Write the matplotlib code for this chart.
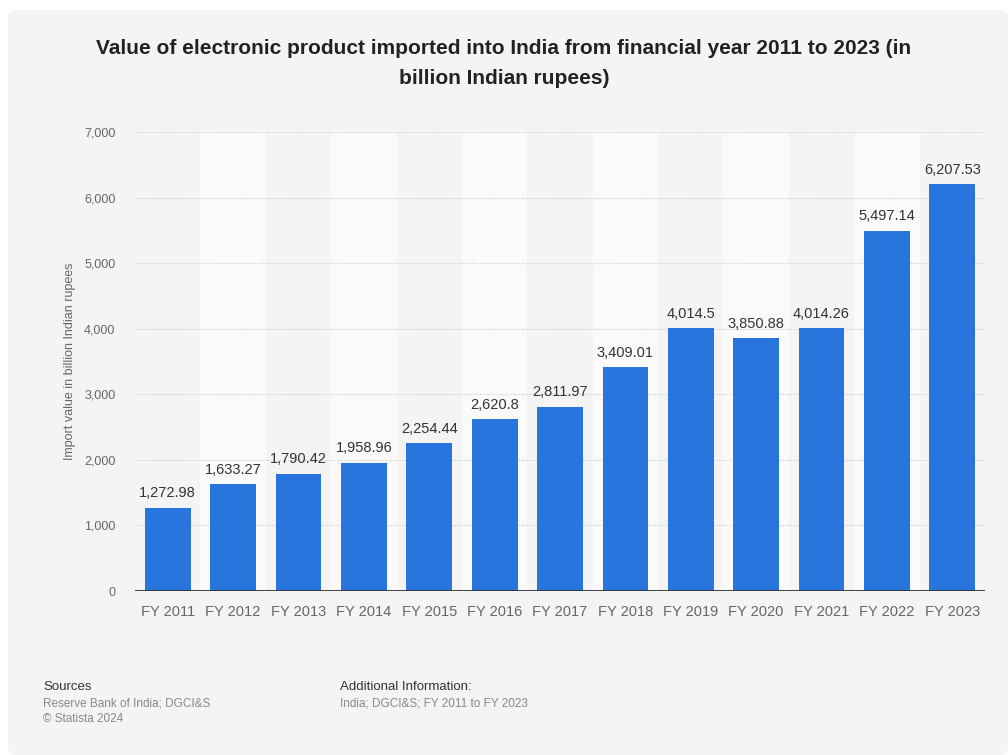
import matplotlib.pyplot as plt
from matplotlib.patches import FancyBboxPatch
from matplotlib.ticker import FuncFormatter

plt.rcParams['font.family'] = ['Liberation Sans', 'DejaVu Sans']

years = ['FY 2011', 'FY 2012', 'FY 2013', 'FY 2014', 'FY 2015', 'FY 2016', 'FY 2017',
         'FY 2018', 'FY 2019', 'FY 2020', 'FY 2021', 'FY 2022', 'FY 2023']
values = [1272.98, 1633.27, 1790.42, 1958.96, 2254.44, 2620.8, 2811.97,
          3409.01, 4014.5, 3850.88, 4014.26, 5497.14, 6207.53]
value_labels = ['1,272.98', '1,633.27', '1,790.42', '1,958.96', '2,254.44', '2,620.8', '2,811.97',
                '3,409.01', '4,014.5', '3,850.88', '4,014.26', '5,497.14', '6,207.53']
yticks = [0, 1000, 2000, 3000, 4000, 5000, 6000, 7000]

W, H = 1008, 755
fig = plt.figure(figsize=(W / 100, H / 100), dpi=100)
fig.patch.set_facecolor('white')

# panel gris claro de fondo
panel = FancyBboxPatch((8 / W, 0), (W - 8) / W, (H - 10) / H,
                       boxstyle='round,pad=0,rounding_size=0.01',
                       transform=fig.transFigure, facecolor='#f4f4f4',
                       edgecolor='none', zorder=-10)
fig.patches.append(panel)

ax = fig.add_axes([135 / W, 1 - 591 / H, 850 / W, (591 - 132) / H])
ax.set_facecolor('none')
ax.set_zorder(2)

x = range(len(years))
# columnas alternas más claras
for i in x:
    if i % 2 == 1:
        ax.axvspan(i - 0.5, i + 0.5, color='#fafafa', zorder=0, lw=0)

for yt in yticks[1:]:
    ax.axhline(yt, color='#c8c8c8', lw=0.8, ls=(0, (1, 1.5)), zorder=1)

bars = ax.bar(x, values, width=0.7, color='#2876dd', zorder=3)
for xi, v, lab in zip(x, values, value_labels):
    ax.text(xi, v + 110, lab, ha='center', va='bottom', fontsize=10.5, color='#333333', zorder=4)

ax.axhline(0, color='#333333', lw=1.3, zorder=5)

ax.set_xlim(-0.5, len(years) - 0.5)
ax.set_ylim(0, 7000)
ax.set_yticks(yticks)
ax.yaxis.set_major_formatter(FuncFormatter(lambda v, p: f'{int(v):,}'))
ax.set_xticks(list(x))
ax.set_xticklabels(years)
ax.tick_params(axis='both', length=0, colors='#666666')
ax.tick_params(axis='y', labelsize=9, pad=14)
ax.tick_params(axis='x', labelsize=10.5, pad=10)
for s in ax.spines.values():
    s.set_visible(False)
ax.set_ylabel('Import value in billion Indian rupees', fontsize=9, color='#666666', labelpad=6)

fig.text(0.5, 1 - 48 / H, 'Value of electronic product imported into India from financial year 2011 to 2023 (in',
         ha='center', va='center', fontsize=15, fontweight='bold', color='#222222')
fig.text(0.5, 1 - 79 / H, 'billion Indian rupees)',
         ha='center', va='center', fontsize=15, fontweight='bold', color='#222222')

fig.text(43 / W, 1 - 687 / H, 'Sources', fontsize=9.5, color='#333333', va='center')
fig.text(43 / W, 1 - 703 / H, 'Reserve Bank of India; DGCI&S', fontsize=8.5, color='#888888', va='center')
fig.text(43 / W, 1 - 719 / H, '© Statista 2024', fontsize=8.5, color='#888888', va='center')
fig.text(340 / W, 1 - 687 / H, 'Additional Information:', fontsize=9.5, color='#333333', va='center')
fig.text(340 / W, 1 - 703 / H, 'India; DGCI&S; FY 2011 to FY 2023', fontsize=8.5, color='#888888', va='center')

fig.savefig('out.png', dpi=100, facecolor=fig.get_facecolor())
